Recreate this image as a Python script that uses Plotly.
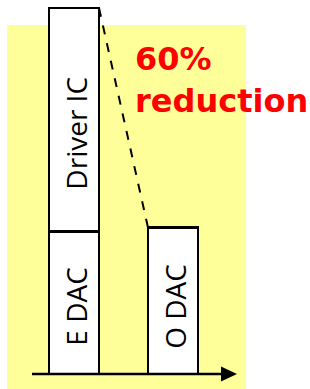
import plotly.graph_objects as go

# Data (relative units)
categories = ["Electronic", "Optical"]
x_pos = [0, 1]
edac = [39, 0]
driver_ic = [61, 0]
odac = [0, 40]
segment_labels = ["E DAC", "Driver IC", "O DAC"]
reduction_text = "60%<br>reduction"

W, H = 310, 389
BAR_W = 0.505


def px(xp):
    return xp / W


def py(yp):
    return 1 - yp / H


fig = go.Figure()
common = dict(width=BAR_W, marker=dict(color="white", line=dict(color="black", width=2.5)),
              hoverinfo="skip", showlegend=False)
fig.add_trace(go.Bar(x=x_pos, y=edac, **common))
fig.add_trace(go.Bar(x=x_pos, y=driver_ic, **common))
fig.add_trace(go.Bar(x=x_pos, y=odac, **common))

centers = [(x_pos[0], edac[0] / 2, -4),
           (x_pos[0], edac[0] + driver_ic[0] / 2, -14),
           (x_pos[1], odac[1] / 2, -6)]
for (cx, cy, ys), lab in zip(centers, segment_labels):
    fig.add_annotation(x=cx, y=cy, text=lab, textangle=-90, showarrow=False,
                       xshift=2, yshift=ys,
                       font=dict(family="Open Sans", size=28, color="black"))

top1 = edac[0] + driver_ic[0]
top2 = odac[1]
# dashed connector
fig.add_shape(type="line", xref="x", yref="y",
              x0=x_pos[0] + BAR_W / 2, y0=top1, x1=x_pos[1] - BAR_W / 2, y1=top2,
              line=dict(color="black", width=2, dash="dash"))

# yellow background
fig.add_shape(type="rect", xref="paper", yref="paper", layer="below",
              x0=px(7), x1=px(246), y0=py(389), y1=py(25),
              fillcolor="#FFFF99", line=dict(width=0))
# axis line + arrow head
fig.add_shape(type="line", xref="paper", yref="paper",
              x0=px(32), x1=px(224), y0=py(374), y1=py(374),
              line=dict(color="black", width=2.5))
fig.add_shape(type="path", xref="paper", yref="paper",
              path=f"M {px(221)} {py(366.5)} L {px(237)} {py(374)} L {px(221)} {py(381.5)} Z",
              fillcolor="black", line=dict(width=0))

fig.add_annotation(xref="paper", yref="paper", x=px(133), y=py(38), xanchor="left", yanchor="top",
                   text=reduction_text, showarrow=False, align="left",
                   font=dict(family="DejaVu Sans", size=32, color="#FF0000", weight=700))

fig.update_layout(width=W, height=H, margin=dict(l=0, r=0, t=0, b=0),
                  paper_bgcolor="white", plot_bgcolor="rgba(0,0,0,0)",
                  barmode="stack", bargap=0,
                  xaxis=dict(range=[-74 / 99, (310 - 74) / 99], visible=False, fixedrange=True),
                  yaxis=dict(range=[-15 / 3.66, 374 / 3.66], visible=False, fixedrange=True))
fig.write_html("out.html", config={"displayModeBar": False, "staticPlot": True},
               post_script="document.body.style.margin='0px';document.body.style.overflow='hidden';")
